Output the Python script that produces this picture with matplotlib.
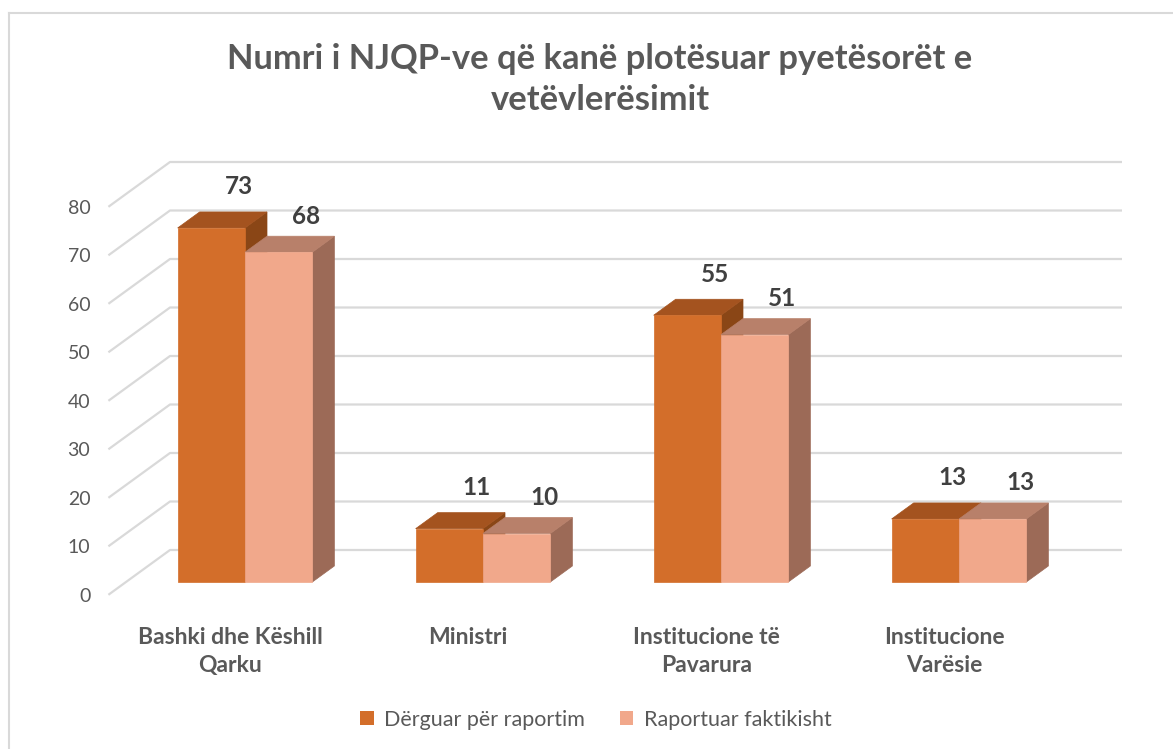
import numpy as np
import matplotlib
matplotlib.use("Agg")
from matplotlib import pyplot as plt
from matplotlib.patches import Polygon, Patch
from matplotlib.lines import Line2D

plt.rcParams['font.family'] = ['Lato', 'DejaVu Sans']

# data
categories = ["Bashki dhe Këshill\nQarku", "Ministri", "Institucione të\nPavarura", "Institucione\nVarësie"]
series_names = ["Dërguar për raportim", "Raportuar faktikisht"]
derguar = [73, 11, 55, 13]
raportuar = [68, 10, 51, 13]
yticks = [0, 10, 20, 30, 40, 50, 60, 70, 80]
title = "Numri i NJQP-ve që kanë plotësuar pyetësorët e\nvetëvlerësimit"

# colours: front, top, side
face_cols = [("#D36E2A", "#A4531F", "#8A4616"), ("#F1A88B", "#B8806A", "#9C6A57")]
grid_col = "#D9D9D9"
txt_col = "#595959"

W, H = 1173, 749
fig = plt.figure(figsize=(W / 100, H / 100), dpi=100)

# axes in category/value units; fake 3d depth offset per unit depth
px_per_cat = 238.0
px_per_val = 4.85
x0_px, y0_px = 245.0, 582.0
xlim = (-0.75, 3.75)
ylim = (-10, 90)
left = (x0_px + xlim[0] * px_per_cat) / W
bottom = (H - (y0_px - ylim[0] * px_per_val)) / H
ax = fig.add_axes([left, bottom, (xlim[1] - xlim[0]) * px_per_cat / W,
                   (ylim[1] - ylim[0]) * px_per_val / H])
ax.set_xlim(*xlim)
ax.set_ylim(*ylim)
ax.axis('off')

DX = 22 / px_per_cat
DV = 16 / px_per_val
Z_WALL = 2.0
Z_FRONT = -0.8
bw = 0.283


def P(x, v, z):
    return (x + z * DX, v + z * DV)


# gridlines: back wall + left diagonal
for v in yticks:
    a = P(-0.5, v, Z_WALL)
    b = P(3.5, v, Z_WALL)
    c = P(-0.5, v, Z_FRONT)
    ax.plot([c[0], a[0], b[0]], [c[1], a[1], b[1]], color=grid_col, lw=1.6,
            solid_capstyle='butt', clip_on=False, zorder=1)
    ax.annotate(str(v), xy=c, xytext=(-13, -1), textcoords='offset points',
                ha='right', va='center', fontsize=14, color=txt_col)

# bars
for i in range(len(categories)):
    for s, vals in enumerate([derguar, raportuar]):
        v = vals[i]
        xa = i - bw + s * bw
        xb = xa + bw
        fc, tc, sc = face_cols[s]
        side = [P(xb, 0, 0), P(xb, v, 0), P(xb, v, 1), P(xb, 0, 1)]
        top = [P(xa, v, 0), P(xb, v, 0), P(xb, v, 1), P(xa, v, 1)]
        front = [P(xa, 0, 0), P(xb, 0, 0), P(xb, v, 0), P(xa, v, 0)]
        for poly, col in [(side, sc), (top, tc), (front, fc)]:
            ax.add_patch(Polygon(poly, closed=True, facecolor=col, edgecolor=col,
                                 lw=0.5, zorder=2 + s, clip_on=False))
        lab_off = 21 if s == 0 else 16
        ax.annotate(str(v), xy=P(xa + bw / 2, v, 1.25), xytext=(0, lab_off * 0.72),
                    textcoords='offset points', ha='center', va='center',
                    fontsize=17.5, fontweight='bold', color="#404040", zorder=5)

# category labels
for i, cat in enumerate(categories):
    ax.annotate(cat, xy=P(i, 0, Z_FRONT), xytext=(2, -23), textcoords='offset points',
                ha='center', va='top', fontsize=16.5, fontweight='bold', color=txt_col,
                linespacing=1.45)

# title
fig.text(600 / W, 1 - 43 / H, title, ha='center', va='top', fontsize=24.8,
         fontweight='bold', color=txt_col, linespacing=1.35)

# legend
handles = [Patch(facecolor=face_cols[k][0], edgecolor='none') for k in range(2)]
fig.legend(handles, series_names, loc='center', bbox_to_anchor=(596 / W, 1 - 720 / H),
           ncol=2, frameon=False, fontsize=15.5, labelcolor=txt_col,
           handlelength=0.62, handleheight=0.62, handletextpad=0.5, columnspacing=1.6)

# outer chart border (only left/top visible)
fig.add_artist(Line2D([9 / W, 9 / W], [0, 1 - 13 / H], transform=fig.transFigure,
                      color=grid_col, lw=1.5))
fig.add_artist(Line2D([9 / W, 1], [1 - 13 / H, 1 - 13 / H], transform=fig.transFigure,
                      color=grid_col, lw=1.5))

fig.savefig("out.png", dpi=100, facecolor='white')
